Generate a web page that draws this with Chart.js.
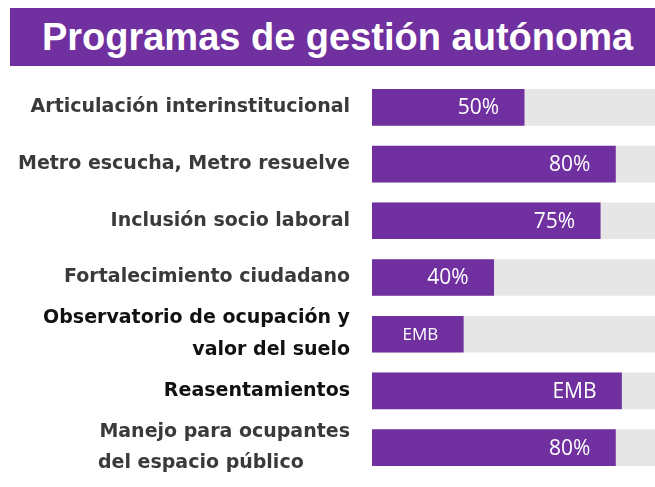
<!DOCTYPE html>
<html lang="es">
<head>
    <meta charset="UTF-8">
    <title>Programas de gestión autónoma</title>
    <script src="https://cdn.jsdelivr.net/npm/chart.js"></script>
    <style>
        body {
            margin: 0;
            background: #ffffff;
        }
        .wrap {
            position: relative;
            width: 655px;
            height: 487px;
        }
        .titulo {
            position: absolute;
            left: 10px;
            top: 8px;
            width: 645px;
            height: 58px;
            background: #7030A0;
            color: #ffffff;
            font-family: "Liberation Sans", Arial, sans-serif;
            font-weight: bold;
            font-size: 38px;
            line-height: 58px;
            text-align: center;
            text-indent: 10px;
            white-space: nowrap;
        }
        canvas {
            position: absolute;
            left: 0;
            top: 0;
        }
    </style>
</head>
<body>
    <div class="wrap">
        <canvas id="programas" width="655" height="487"></canvas>
        <div class="titulo">Programas de gestión autónoma</div>
    </div>

    <script type="text/javascript">
        // programas y avance de cada uno
        const programas = [
            'Articulación interinstitucional',
            'Metro escucha, Metro resuelve',
            'Inclusión socio laboral',
            'Fortalecimiento ciudadano',
            ['Observatorio de ocupación y', 'valor del suelo'],
            'Reasentamientos',
            ['Manejo para ocupantes', 'del espacio público       ']
        ];
        const avance = [50, 80, 75, 40, 30, 82, 80];
        const etiquetas = ['50%', '80%', '75%', '40%', 'EMB', 'EMB', '80%'];
        const total = [100, 100, 100, 100, 100, 100, 100];

        const morado = '#7030A0';
        const gris = '#E6E6E6';

        // textos blancos dentro de cada barra, alineados al final
        const etiquetasBarras = {
            id: 'etiquetasBarras',
            afterDatasetsDraw(chart) {
                const ctx = chart.ctx;
                const meta = chart.getDatasetMeta(1);
                ctx.save();
                ctx.fillStyle = '#ffffff';
                ctx.textAlign = 'right';
                ctx.textBaseline = 'middle';
                meta.data.forEach((bar, i) => {
                    const ancho = bar.x - bar.base;
                    const size = ancho < 120 ? 17 : 21;
                    ctx.font = size + 'px "Open Sans", sans-serif';
                    ctx.fillText(etiquetas[i], bar.x - 25, bar.y + 1);
                });
                ctx.restore();
            }
        };

        const ctx = document.getElementById('programas').getContext('2d');
        new Chart(ctx, {
            type: 'bar',
            data: {
                labels: programas,
                datasets: [
                    {
                        label: 'Total',
                        data: total,
                        backgroundColor: gris,
                        barThickness: 36,
                        grouped: false,
                        order: 2
                    },
                    {
                        label: 'Avance',
                        data: avance,
                        backgroundColor: morado,
                        barThickness: 36,
                        grouped: false,
                        order: 1
                    }
                ]
            },
            options: {
                indexAxis: 'y',
                responsive: false,
                animation: false,
                layout: {
                    padding: { top: 79, bottom: 11, left: 0, right: 0 }
                },
                plugins: {
                    legend: { display: false },
                    tooltip: { enabled: false }
                },
                scales: {
                    x: {
                        min: 0,
                        max: 93,
                        display: false,
                        grid: { display: false }
                    },
                    y: {
                        grid: { display: false },
                        border: { display: false },
                        afterFit(scale) {
                            scale.width = 372;
                            // las etiquetas de dos líneas no deben reservar espacio extra
                            scale.paddingTop = 0;
                            scale.paddingBottom = 0;
                        },
                        ticks: {
                            autoSkip: false,
                            padding: 14,
                            color: (c) => (c.index === 4 || c.index === 5) ? '#111111' : '#3a3a3a',
                            font: {
                                family: '"DejaVu Sans", sans-serif',
                                weight: 'bold',
                                size: 19,
                                lineHeight: 1.65
                            }
                        }
                    }
                }
            },
            plugins: [etiquetasBarras]
        });
    </script>
</body>
</html>
